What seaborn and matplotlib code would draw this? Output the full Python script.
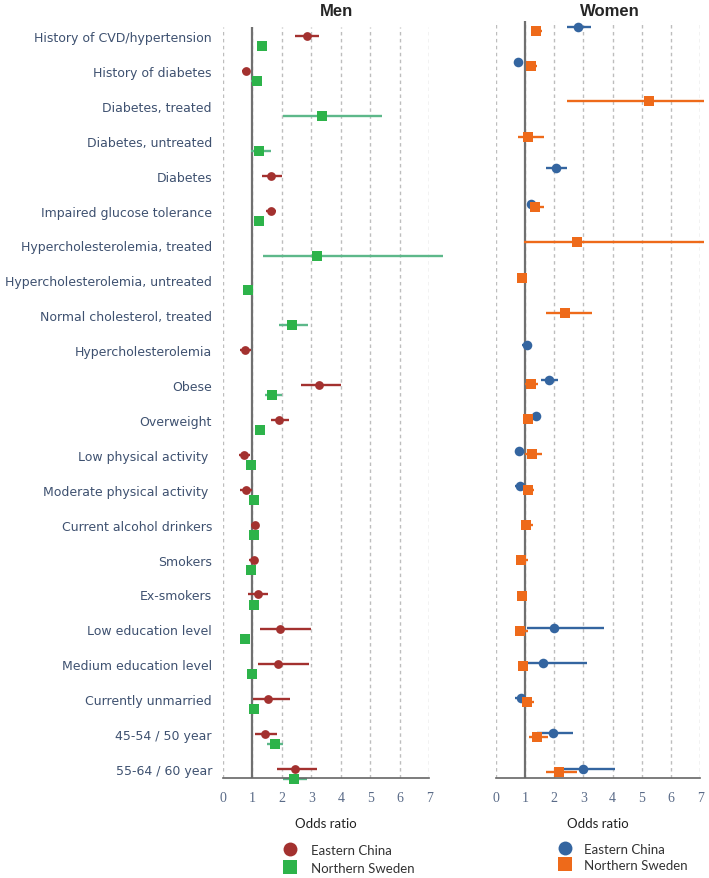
import matplotlib
import matplotlib.pyplot as plt
import numpy as np
import pandas as pd
import seaborn as sns
from matplotlib.lines import Line2D

matplotlib.use("Agg")
sns.set_theme(style="white")
plt.rcParams["font.family"] = ["DejaVu Sans"]

nan = np.nan

labels = [
    "History of CVD/hypertension", "History of diabetes", "Diabetes, treated",
    "Diabetes, untreated", "Diabetes", "Impaired glucose tolerance",
    "Hypercholesterolemia, treated", "Hypercholesterolemia, untreated",
    "Normal cholesterol, treated", "Hypercholesterolemia", "Obese", "Overweight",
    "Low physical activity ", "Moderate physical activity ", "Current alcohol drinkers",
    "Smokers", "Ex-smokers", "Low education level", "Medium education level",
    "Currently unmarried", "45-54 / 50 year", "55-64 / 60 year",
]
groups = ["Eastern China", "Northern Sweden"]
xticks = [0, 1, 2, 3, 4, 5, 6, 7]

# Men, Eastern China: odds ratio, lower, upper
men_china_or = [2.86, 0.78, nan, nan, 1.63, 1.63, nan, nan, nan, 0.75, 3.26, 1.91,
                0.71, 0.77, 1.09, 1.06, 1.19, 1.94, 1.86, 1.52, 1.44, 2.44]
men_china_lo = [2.45, 0.66, nan, nan, 1.31, 1.45, nan, nan, nan, 0.58, 2.64, 1.63,
                0.54, 0.58, 0.95, 0.89, 0.86, 1.26, 1.18, 1.01, 1.07, 1.84]
men_china_hi = [3.27, 0.92, nan, nan, 1.99, 1.80, nan, nan, nan, 0.94, 4.00, 2.23,
                0.92, 0.97, 1.22, 1.20, 1.54, 2.99, 2.92, 2.26, 1.83, 3.19]
# Men, Northern Sweden
men_swe_or = [1.31, 1.14, 3.36, 1.23, nan, 1.21, 3.18, 0.84, 2.33, nan, 1.67, 1.26,
              0.95, 1.05, 1.05, 0.94, 1.06, 0.75, 0.98, 1.06, 1.78, 2.41]
men_swe_lo = [1.16, 0.96, 2.05, 0.94, nan, 1.09, 1.35, 0.78, 1.89, nan, 1.44, 1.10,
              0.87, 0.96, 0.97, 0.81, 0.96, 0.68, 0.92, 0.97, 1.48, 2.05]
men_swe_hi = [1.48, 1.26, 5.41, 1.62, nan, 1.33, 7.48, 0.90, 2.87, nan, 2.00, 1.39,
              1.03, 1.14, 1.13, 1.10, 1.17, 0.82, 1.05, 1.15, 2.03, 2.86]
# Women, Eastern China
wom_china_or = [2.83, 0.76, nan, nan, 2.05, 1.22, nan, nan, nan, 1.08, 1.83, 1.37,
                0.81, 0.83, nan, nan, nan, 1.99, 1.63, 0.86, 1.95, 3.00]
wom_china_lo = [2.45, 0.63, nan, nan, 1.72, 1.09, nan, nan, nan, 0.89, 1.54, 1.20,
                0.66, 0.66, nan, nan, nan, 1.06, 1.06, 0.66, 1.40, 2.18]
wom_china_hi = [3.26, 0.89, nan, nan, 2.45, 1.34, nan, nan, nan, 1.22, 2.14, 1.52,
                0.96, 1.00, nan, nan, nan, 3.71, 3.13, 0.94, 2.65, 4.08]
# Women, Northern Sweden
wom_swe_or = [1.37, 1.20, 5.26, 1.09, nan, 1.34, 2.77, 0.89, 2.37, nan, 1.20, 1.10,
              1.23, 1.12, 1.04, 0.86, 0.89, 0.83, 0.94, 1.08, 1.42, 2.18]
wom_swe_lo = [1.20, 1.06, 2.43, 0.77, nan, 1.17, 0.98, 0.77, 1.72, nan, 1.00, 0.97,
              1.00, 0.94, 0.86, 0.69, 0.75, 0.66, 0.85, 0.94, 1.15, 1.72]
wom_swe_hi = [1.59, 1.40, 7.14, 1.65, nan, 1.65, 7.14, 1.03, 3.28, nan, 1.44, 1.23,
              1.59, 1.31, 1.29, 1.09, 1.04, 1.12, 1.05, 1.31, 1.80, 2.79]

LABEL_COLOR = "#3E5170"


def build_frame(china, sweden, offset):
    rows = []
    for name, (ors, los, his), shift in [("Eastern China", china, 0.0), ("Northern Sweden", sweden, offset)]:
        for i, (o, lo, hi) in enumerate(zip(ors, los, his)):
            if np.isnan(o):
                continue
            rows.append({"region": name, "y": i + shift, "or": o, "lo": lo, "hi": hi})
    return pd.DataFrame(rows)


def draw_panel(ax, df, marker_colors, line_colors, sizes, ylim):
    for x in xticks:
        ax.axvline(x, color="#BDBDBD", lw=1.0, ls=(0, (2.5, 2.5)), zorder=0)
    ax.axvline(1, color="#707070", lw=1.6, zorder=1)
    for region, sub in df.groupby("region"):
        ax.hlines(sub["y"], sub["lo"], sub["hi"], colors=line_colors[region],
                  lw=1.7, zorder=2, clip_on=False)
        sns.scatterplot(data=sub, x="or", y="y", color=marker_colors[region],
                        marker="o" if region == "Eastern China" else "s",
                        s=sizes[region], linewidth=0, legend=False, ax=ax,
                        zorder=3, clip_on=False)
    ax.set_xlim(0, 7)
    ax.set_ylim(*ylim)
    ax.set_xticks(xticks)
    ax.set_xticklabels([str(t) for t in xticks], family="Liberation Serif",
                       fontsize=10, color="#5A6B88")
    ax.tick_params(axis="x", direction="inout", length=7, width=1, color="#666666", pad=6)
    ax.set_xlabel("Odds ratio", fontsize=9.5, family="Lato", color="#222222", labelpad=9)
    for side in ["top", "right", "left"]:
        ax.spines[side].set_visible(False)
    ax.spines["bottom"].set_color("#666666")
    ax.spines["bottom"].set_linewidth(1.2)
    ax.grid(False)


fig = plt.figure(figsize=(7.09, 8.79), dpi=100)
W, H = 709, 879
ax_men = fig.add_axes([223 / W, 100 / H, 206.3 / W, 751 / H])
ax_wom = fig.add_axes([495.7 / W, 100 / H, 204.6 / W, 757 / H])

men_df = build_frame((men_china_or, men_china_lo, men_china_hi),
                     (men_swe_or, men_swe_lo, men_swe_hi), 0.29)
wom_df = build_frame((wom_china_or, wom_china_lo, wom_china_hi),
                     (wom_swe_or, wom_swe_lo, wom_swe_hi), 0.10)

draw_panel(ax_men, men_df,
           {"Eastern China": "#A3312F", "Northern Sweden": "#2DB34A"},
           {"Eastern China": "#A3312F", "Northern Sweden": "#5DB88A"},
           {"Eastern China": 40, "Northern Sweden": 42}, (21.26, -0.26))
draw_panel(ax_wom, wom_df,
           {"Eastern China": "#3465A0", "Northern Sweden": "#EE6A1A"},
           {"Eastern China": "#3465A0", "Northern Sweden": "#EE6A1A"},
           {"Eastern China": 48, "Northern Sweden": 42}, (21.26, -0.17))

ax_men.set_yticks(range(len(labels)))
ax_men.set_yticklabels(labels, fontsize=9.0, color=LABEL_COLOR)
ax_men.tick_params(axis="y", length=0, pad=8)
ax_wom.set_yticks([])
ax_men.set_ylabel("")
ax_wom.set_ylabel("")

fig.text(336.7 / W, 1 - 11 / H, "Men", ha="center", va="center", fontsize=12,
         fontweight="bold", family="Liberation Sans")
fig.text(610 / W, 1 - 11 / H, "Women", ha="center", va="center", fontsize=12,
         fontweight="bold", family="Liberation Sans")


def add_legend(ax, colors, x_left, y_mid, spacing, pad):
    handles = [
        Line2D([], [], ls="none", marker="o", markersize=10, markeredgewidth=0,
               color=colors[0]),
        Line2D([], [], ls="none", marker="s", markersize=10, markeredgewidth=0,
               color=colors[1]),
    ]
    leg = ax.legend(handles, groups, loc="center left", bbox_to_anchor=(x_left, y_mid),
                    bbox_transform=fig.transFigure, frameon=False, borderpad=0,
                    handlelength=1.0, handletextpad=pad, labelspacing=spacing,
                    prop={"family": "Lato", "size": 9.5})
    for t in leg.get_texts():
        t.set_color("#333333")


add_legend(ax_men, ["#A3312F", "#2DB34A"], 276.4 / W, 1 - 860 / H, 0.47, 1.15)
add_legend(ax_wom, ["#3465A0", "#EE6A1A"], 551.4 / W, 1 - 858 / H, 0.32, 0.95)

fig.savefig("out.png", dpi=100)
